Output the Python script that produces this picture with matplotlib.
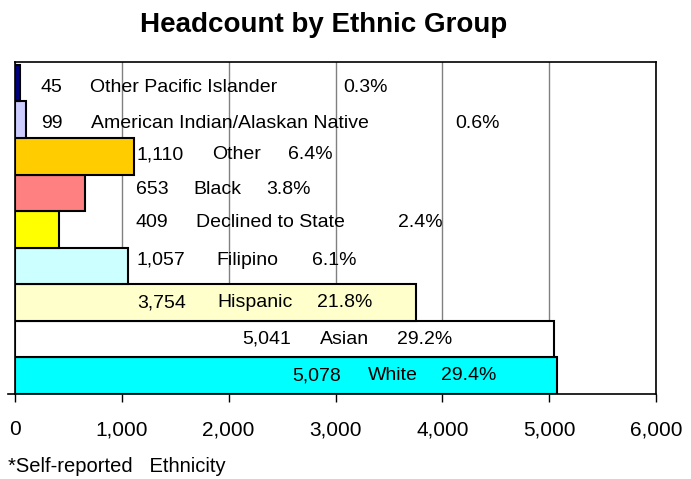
import numpy as np
import matplotlib
matplotlib.use("Agg")
import matplotlib.pyplot as plt

plt.rcParams['font.family'] = ['Liberation Sans', 'DejaVu Sans']

# data, bottom bar first
groups = ['White', 'Asian', 'Hispanic', 'Filipino', 'Declined to State',
          'Black', 'Other', 'American Indian/Alaskan Native', 'Other Pacific Islander']
counts = [5078, 5041, 3754, 1057, 409, 653, 1110, 99, 45]
colors = ['#00FFFF', '#FFFFFF', '#FFFFCC', '#CCFFFF', '#FFFF00',
          '#FF8080', '#FFCC00', '#CCCCFF', '#000080']
xticks = [0, 1000, 2000, 3000, 4000, 5000, 6000]

# where each label piece starts (number, name, percent), in data units,
# plus a small vertical nudge for each row (positive = up)
label_x = [(2593, 3299, 3992), (2123, 2850, 3578), (1140, 1895, 2830),
           (1137, 1885, 2782), (1131, 1692, 3582), (1131, 1666, 2352),
           (1137, 1848, 2554), (240, 707, 4121), (240, 701, 3068)]
label_dy = [0, 0, 0, 0.16, 0.19, 0.08, 0.05, -0.11, -0.13]

total = sum(counts)
pcts = [c / total * 100 for c in counts]

fig = plt.figure(figsize=(6.91, 4.79), dpi=100)
ax = fig.add_axes([15 / 691, 1 - 394 / 479, (656 - 15) / 691, (394 - 62) / 479])

y = np.arange(len(groups))
ax.barh(y, counts, height=1.0, color=colors, edgecolor='black', linewidth=1.5, zorder=3)

for i in range(len(groups)):
    xn, xg, xp = label_x[i]
    ty = y[i] + label_dy[i]
    ax.text(xn, ty, f'{counts[i]:,}', va='center', ha='left', fontsize=14, zorder=4)
    ax.text(xg, ty, groups[i], va='center', ha='left', fontsize=14, zorder=4)
    ax.text(xp, ty, f'{pcts[i]:.1f}%', va='center', ha='left', fontsize=14, zorder=4)

ax.set_xlim(0, 6000)
ax.set_ylim(-0.5, 8.58)
ax.set_xticks(xticks)
ax.set_xticklabels([f'{t:,}' for t in xticks], fontsize=15)
ax.set_yticks([])
ax.tick_params(axis='x', direction='out', length=6, width=1, pad=13)
ax.xaxis.grid(True, color='#808080', linewidth=1)
ax.set_axisbelow(True)

for s in ['left', 'bottom', 'top', 'right']:
    ax.spines[s].set_color('black')
    ax.spines[s].set_linewidth(1.2)
# bottom axis line sticks out a little to the left
ax.plot([-0.011, 0], [0, 0], transform=ax.transAxes, clip_on=False,
        color='black', linewidth=1.2)

fig.text(0.468, 1 - 25 / 479, 'Headcount by Ethnic Group', ha='center', va='center',
         fontsize=20, fontweight='bold')
fig.text(8 / 691, 1 - 467 / 479, '*Self-reported   Ethnicity', ha='left', va='center',
         fontsize=14.5)

fig.savefig('out.png', dpi=100)
